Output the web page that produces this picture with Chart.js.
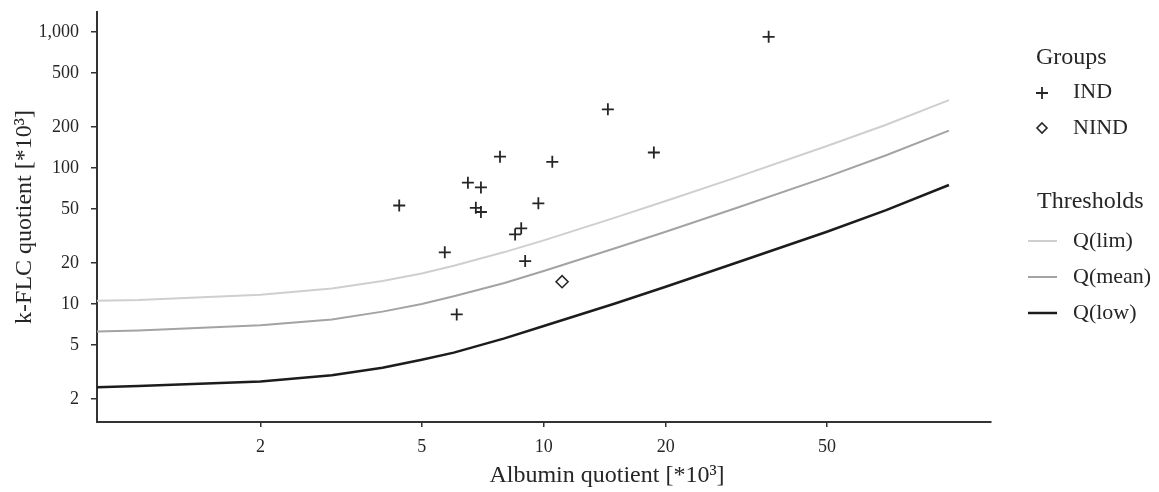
<!DOCTYPE html>
<html>
<head>
<meta charset="utf-8">
<title>k-FLC quotient vs Albumin quotient</title>
<script src="https://cdn.jsdelivr.net/npm/chart.js@4.4.1/dist/chart.umd.min.js"></script>
<style>
  html, body { margin: 0; padding: 0; background: #fff; }
  #wrap { width: 1159px; height: 492px; position: relative; }
</style>
</head>
<body>
<div id="wrap"><canvas id="grafikFLC"></canvas></div>
<script>
// Albumin quotient steps for the threshold curves
const qAlb = [0.79, 1, 2, 3, 4, 5, 6, 8, 10, 15, 20, 30, 50, 70, 100];
const qLim = [10.6, 10.7, 11.7, 13.0, 14.8, 16.8, 19.1, 24.1, 29.4, 43.2, 57.2, 85.6, 145, 208, 315];
const qMean = [6.3, 6.4, 7.0, 7.7, 8.8, 10.0, 11.4, 14.3, 17.5, 25.7, 34.0, 51, 86, 124, 188];
const qLow = [2.45, 2.5, 2.7, 3.0, 3.4, 3.9, 4.4, 5.6, 6.9, 10.1, 13.4, 20.2, 34, 49, 75];

// Patient groups
const indAlb = [4.4, 5.7, 6.1, 6.5, 7.0, 6.8, 7.0, 7.8, 8.5, 8.8, 9.7, 10.5, 9.0, 14.4, 18.7, 35.9];
const indFlc = [53, 24, 8.4, 78, 72, 51, 47.5, 121, 32.5, 36, 55, 111, 20.7, 270, 130, 920];
const nindAlb = [11.1];
const nindFlc = [14.6];

const xTicks = [2, 5, 10, 20, 50];
const yTicks = [2, 5, 10, 20, 50, 100, 200, 500, 1000];

const serif = "'Liberation Serif', 'DejaVu Serif', serif";
const ink = '#262626';

const toXY = (xs, ys) => xs.map((x, i) => ({ x: x, y: ys[i] }));

// legend on the right side + x title (drawn by hand, like the figure)
const legendPlugin = {
  id: 'legendKanan',
  afterDraw(chart) {
    const ctx = chart.ctx;
    ctx.save();
    ctx.fillStyle = ink;
    ctx.textBaseline = 'middle';
    ctx.textAlign = 'center';
    ctx.font = '24px ' + serif;
    ctx.fillText('Albumin quotient [*10³]', 607, 476);

    ctx.textAlign = 'left';
    ctx.fillText('Groups', 1036, 58);
    ctx.fillText('Thresholds', 1037, 202);

    ctx.font = '22px ' + serif;
    ctx.fillText('IND', 1073, 92);
    ctx.fillText('NIND', 1073, 128);
    ctx.fillText('Q(lim)', 1073, 241);
    ctx.fillText('Q(mean)', 1073, 277);
    ctx.fillText('Q(low)', 1073, 313);

    // markers
    ctx.strokeStyle = ink;
    ctx.lineWidth = 1.8;
    ctx.beginPath();
    ctx.moveTo(1036, 93); ctx.lineTo(1048, 93);
    ctx.moveTo(1042, 87); ctx.lineTo(1042, 99);
    ctx.stroke();
    ctx.lineWidth = 1.6;
    ctx.beginPath();
    ctx.moveTo(1042, 123); ctx.lineTo(1047, 128); ctx.lineTo(1042, 133); ctx.lineTo(1037, 128);
    ctx.closePath();
    ctx.stroke();

    const lines = [['#cfcfcf', 241, 2], ['#a3a3a3', 277, 2], ['#1c1c1c', 313, 2.5]];
    lines.forEach(l => {
      ctx.strokeStyle = l[0];
      ctx.lineWidth = l[2];
      ctx.beginPath();
      ctx.moveTo(1028, l[1]); ctx.lineTo(1057, l[1]);
      ctx.stroke();
    });
    ctx.restore();
  }
};

const ctxFLC = document.getElementById('grafikFLC');
let grafikFLC = new Chart(ctxFLC, {
  type: 'line',
  data: {
    datasets: [
      {
        label: 'Q(lim)',
        data: toXY(qAlb, qLim),
        borderColor: '#cfcfcf',
        borderWidth: 2,
        pointRadius: 0,
        tension: 0,
        fill: false
      },
      {
        label: 'Q(mean)',
        data: toXY(qAlb, qMean),
        borderColor: '#a3a3a3',
        borderWidth: 2,
        pointRadius: 0,
        tension: 0,
        fill: false
      },
      {
        label: 'Q(low)',
        data: toXY(qAlb, qLow),
        borderColor: '#1c1c1c',
        borderWidth: 2.5,
        pointRadius: 0,
        tension: 0,
        fill: false
      },
      {
        label: 'IND',
        type: 'scatter',
        data: toXY(indAlb, indFlc),
        showLine: false,
        pointStyle: 'cross',
        pointRadius: 6,
        pointBorderWidth: 1.8,
        borderColor: ink,
        backgroundColor: ink
      },
      {
        label: 'NIND',
        type: 'scatter',
        data: toXY(nindAlb, nindFlc),
        showLine: false,
        pointStyle: 'rectRot',
        pointRadius: 6,
        pointBorderWidth: 1.6,
        borderColor: ink,
        backgroundColor: '#ffffff'
      }
    ]
  },
  options: {
    responsive: true,
    maintainAspectRatio: false,
    animation: false,
    layout: {
      padding: { left: 0, top: 12, right: 168, bottom: 0 }
    },
    plugins: {
      legend: { display: false },
      tooltip: { enabled: false }
    },
    scales: {
      x: {
        type: 'logarithmic',
        min: 0.79,
        max: 127,
        afterBuildTicks: axis => { axis.ticks = xTicks.map(v => ({ value: v })); },
        afterFit: axis => {
          axis.height = 70;
          axis.paddingLeft = 0;
          axis.paddingRight = 0;
        },
        ticks: {
          autoSkip: false,
          maxRotation: 0,
          padding: 9,
          color: ink,
          font: { family: serif, size: 18 },
          callback: v => String(v)
        },
        grid: { drawOnChartArea: false, drawTicks: true, tickLength: 5, color: '#333', lineWidth: 1.5 },
        border: { display: true, color: '#333', width: 2 }
      },
      y: {
        type: 'logarithmic',
        min: 1.36,
        max: 1400,
        afterBuildTicks: axis => { axis.ticks = yTicks.map(v => ({ value: v })); },
        afterFit: axis => {
          axis.width = 97;
          axis.paddingTop = 0;
          axis.paddingBottom = 0;
        },
        ticks: {
          autoSkip: false,
          padding: 12,
          color: ink,
          font: { family: serif, size: 18 },
          callback: v => v.toLocaleString('en-US')
        },
        grid: { drawOnChartArea: false, drawTicks: true, tickLength: 6, color: '#333', lineWidth: 1.5 },
        border: { display: true, color: '#333', width: 2 },
        title: {
          display: true,
          text: 'k-FLC quotient [*10³]',
          color: ink,
          font: { family: serif, size: 24 },
          padding: { top: 10, bottom: 0 }
        }
      }
    }
  },
  plugins: [legendPlugin]
});
</script>
</body>
</html>
